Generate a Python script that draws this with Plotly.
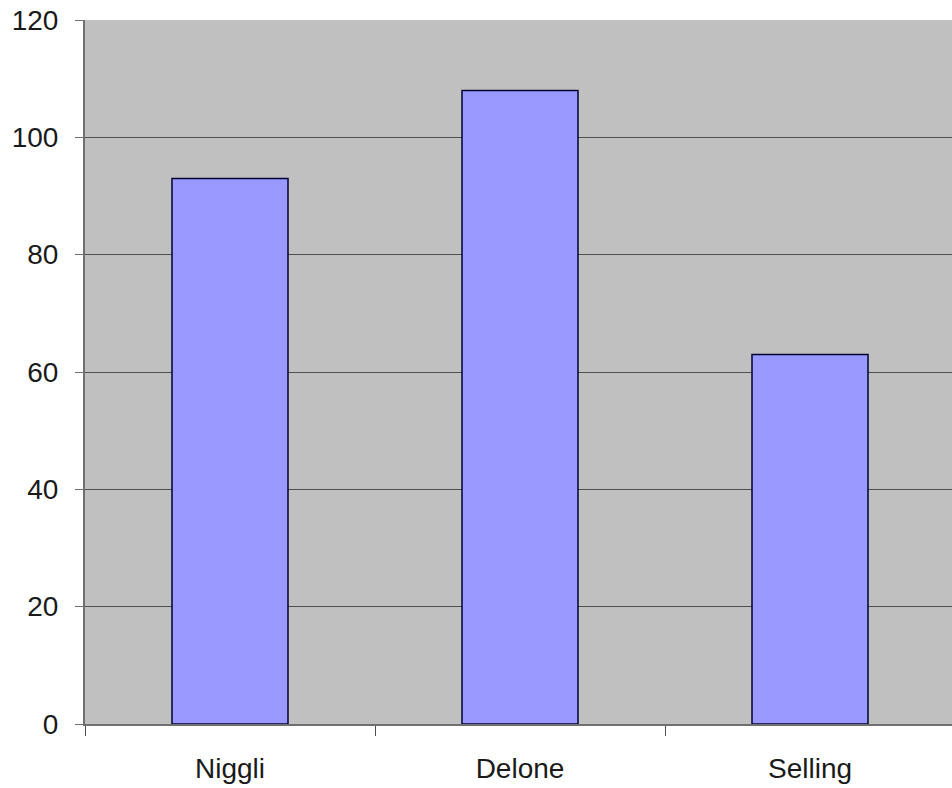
import plotly.graph_objects as go

categories = ["Niggli", "Delone", "Selling"]
values = [93, 108, 63]
y_ticks = [0, 20, 40, 60, 80, 100, 120]

fig = go.Figure(go.Bar(
    x=categories, y=values,
    width=0.4,
    marker=dict(color="#9999FF", line=dict(color="#000033", width=1.5)),
))

fig.update_layout(
    width=952, height=788,
    margin=dict(l=85, r=0, t=20, b=64),
    paper_bgcolor="white", plot_bgcolor="#C0C0C0",
    showlegend=False,
    font=dict(family="Liberation Sans, Arial", size=28, color="#1a1a1a"),
)
fig.update_xaxes(
    range=[-0.5, -0.5 + 867 / 290],
    showgrid=False, showline=True, linecolor="#707070", linewidth=2,
    ticks="outside", tickson="boundaries", ticklen=10, tickcolor="#505050", tickwidth=1,
    ticklabelstandoff=18,
)
fig.update_yaxes(
    range=[0, 120], tickvals=y_ticks,
    showgrid=True, gridcolor="#505050", gridwidth=1,
    showline=True, linecolor="#707070", linewidth=2,
    ticks="outside", ticklen=8, tickcolor="#707070",
    ticklabelstandoff=11, zeroline=False,
)
fig.write_html("out.html")
